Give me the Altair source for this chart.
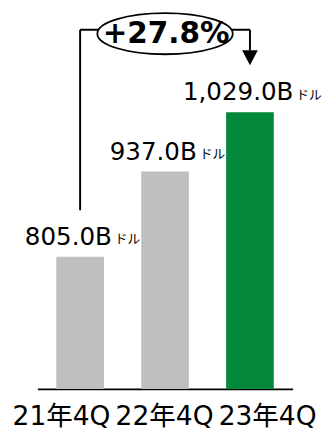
import altair as alt
import pandas as pd

# ---- data ----
categories = ["21年4Q", "22年4Q", "23年4Q"]
values = [805.0, 937.0, 1029.0]
value_labels = ["805.0B", "937.0B", "1,029.0B"]
unit_label = "ドル"
bar_colors = ["#BFBFBF", "#BFBFBF", "#03873A"]
growth_text = "+27.8%"
growth_from = "21年4Q"
growth_to = "23年4Q"
# annotation levels (value units)
bracket_level = 1157.0
left_leg_end = 877.0
arrow_base = 1125.0
arrow_tip = 1102.0

Y_MIN, Y_MAX = 600.0, 1184.5
W, H = 260, 384
P_IN, P_OUT = 0.439, 0.222
STEP = W / (len(categories) - P_IN + 2 * P_OUT)
HALF_BAND = STEP * (1 - P_IN) / 2
LBL_DX = -12
FONT = "'DejaVu Sans', 'Noto Sans CJK JP', sans-serif"

bars_df = pd.DataFrame({"cat": categories, "value": values,
                        "label": value_labels, "color": bar_colors,
                        "unit": [unit_label] * len(categories)})

xscale = alt.Scale(domain=categories, paddingInner=P_IN, paddingOuter=P_OUT)
yscale = alt.Scale(domain=[Y_MIN, Y_MAX], zero=False, nice=False)
xaxis = alt.Axis(title=None, labels=False, ticks=False, grid=False,
                 domainColor="#000000", domainWidth=2)


def X(field):
    return alt.X(field, scale=xscale, sort=categories, axis=xaxis)


def Y(field):
    return alt.Y(field, scale=yscale, axis=None)


base = alt.Chart(bars_df)
bars = base.mark_bar().encode(
    x=X("cat:N"), y=Y("value:Q"), y2=alt.datum(Y_MIN),
    color=alt.Color("color:N", scale=None))

main_lbl = base.mark_text(align="center", baseline="alphabetic", dx=LBL_DX, dy=-12,
                          fontSize=25, font=FONT, color="#000000").encode(
    x=X("cat:N"), y=Y("value:Q"), text="label:N")

unit_lbl = base.transform_calculate(
    uoff=f"{HALF_BAND} + {LBL_DX} + (17.3 + 11.9 * length(datum.label)) / 2 + 3"
).mark_text(align="left", baseline="alphabetic", dy=-14, fontSize=13,
            font="'Noto Sans CJK JP', sans-serif", color="#000000").encode(
    x=X("cat:N"), y=Y("value:Q"), text="unit:N",
    xOffset=alt.XOffset("uoff:Q", scale=None))

h_df = pd.DataFrame({"x": [growth_from], "x2": [growth_to], "y": [bracket_level]})
hrule = alt.Chart(h_df).mark_rule(color="#000000", strokeWidth=2).encode(
    x=X("x:N"), x2="x2:N", y=Y("y:Q"))

l_df = pd.DataFrame({"x": [growth_from], "y": [bracket_level], "y2": [left_leg_end]})
lleg = alt.Chart(l_df).mark_rule(color="#000000", strokeWidth=2).encode(
    x=X("x:N"), y=Y("y:Q"), y2="y2:Q")

r_df = pd.DataFrame({"x": [growth_to], "y": [bracket_level], "y2": [arrow_base]})
rleg = alt.Chart(r_df).mark_rule(color="#000000", strokeWidth=2).encode(
    x=X("x:N"), y=Y("y:Q"), y2="y2:Q")

a_df = pd.DataFrame({"x": [growth_to], "y": [arrow_tip]})
arrow = alt.Chart(a_df).mark_point(
    shape="M-1,-1.9L1,-1.9L0,0Z", size=256, filled=True, color="#000000",
    opacity=1).encode(x=X("x:N"), y=Y("y:Q"))

ELLIPSE = ("M-1,0.058C-1,-0.110,-0.5523,-0.246,0,-0.246"
           "C0.5523,-0.246,1,-0.110,1,0.058"
           "C1,0.226,0.5523,0.362,0,0.362"
           "C-0.5523,0.362,-1,0.226,-1,0.058Z")
g_df = pd.DataFrame({"x": [categories[1]], "y": [bracket_level], "text": [growth_text]})
ellipse = alt.Chart(g_df).mark_point(
    shape=ELLIPSE, size=138 * 138, filled=True, color="#FFFFFF",
    stroke="#000000", strokeWidth=1.8, opacity=1).encode(x=X("x:N"), y=Y("y:Q"))
gtext = alt.Chart(g_df).mark_text(
    align="center", baseline="alphabetic", dx=1, dy=14, fontSize=30,
    fontWeight="bold", font=FONT, color="#000000").encode(
    x=X("x:N"), y=Y("y:Q"), text="text:N")

main = alt.layer(bars, main_lbl, unit_lbl, hrule, lleg, rleg, arrow, ellipse, gtext)

tick_df = pd.DataFrame({"cat": categories})
ticks = alt.Chart(tick_df).mark_text(
    baseline="alphabetic", align="center", dy=37, fontSize=27, font=FONT,
    color="#000000").encode(
    x=alt.X("cat:N", sort=categories,
            scale=alt.Scale(type="point", domain=categories, range=[24.5, 234.5], padding=0),
            axis=None),
    y=alt.value(H), text="cat:N")

chart = alt.layer(main, ticks).resolve_scale(x="independent").properties(
    width=W, height=H,
    autosize=alt.AutoSizeParams(type="none"),
    padding={"left": 30, "top": 0, "right": 34, "bottom": 48},
).configure_view(stroke=None)

chart.save("out.html", embed_options={"renderer": "svg", "actions": False})
